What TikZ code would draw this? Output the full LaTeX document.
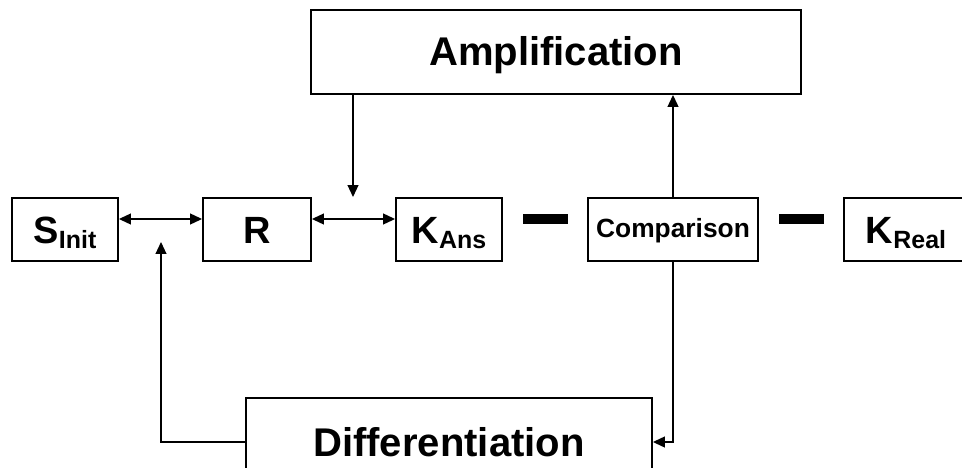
\documentclass[tikz,border=0pt]{standalone}
\usepackage{fontspec}
\setmainfont{Liberation Sans}
\usetikzlibrary{arrows.meta}

\newcommand{\bigsub}[2]{{\fontsize{21.6}{24}\selectfont #1}\raisebox{-2.5pt}{\fontsize{14.2}{16}\selectfont #2}}

\begin{document}
\begin{tikzpicture}[x=0.02cm,y=0.02cm,
  >={Triangle[length=6.8pt,width=6.2pt]},
  box/.style={draw,line width=1.1pt,inner sep=0pt,font=\bfseries,text depth=0pt},
  rowbox/.style={box,minimum height=1.26cm,text height=16.5pt},
  conn/.style={line width=0.75pt},
  bar/.style={fill=black,inner sep=0pt,minimum width=0.9cm,minimum height=0.2cm}]
  \clip (0,0) rectangle (962,467);

  %% big blocks
  \node[box,minimum width=9.8cm,minimum height=1.68cm,text height=15.9pt,
        font=\bfseries\fontsize{22.8}{26}\selectfont] (amp) at (556,415) {Amplification};
  \node[box,minimum width=8.12cm,minimum height=1.76cm,text height=17pt,
        font=\bfseries\fontsize{22.8}{26}\selectfont] (diff) at (449,25) {Differentiation};

  %% row
  \node[rowbox,minimum width=2.12cm] (sinit) at (65,237.5) {\bigsub{S}{Init}};
  \node[rowbox,minimum width=2.16cm] (r) at (257,237.5) {\fontsize{21.6}{24}\selectfont R};
  \node[rowbox,minimum width=2.12cm] (kans) at (449,237.5) {\bigsub{K}{Ans}};
  \node[rowbox,minimum width=3.4cm,text height=9.6pt,
        font=\bfseries\fontsize{15}{18}\selectfont] (comp) at (673,237.5) {Comparison};
  \node[rowbox,minimum width=2.48cm] (kreal) at (906,237.5) {\bigsub{K}{Real}};

  %% minus signs
  \node[bar] (minusA) at (545.5,248) {};
  \node[bar] (minusB) at (801.5,248) {};

  %% S <-> R <-> K
  \draw[conn,<->] ([yshift=0.21cm]sinit.east) -- ([yshift=0.21cm]r.west);
  \draw[conn,<->] ([yshift=0.21cm]r.east) -- ([yshift=0.21cm]kans.west);

  %% amplification loop
  \coordinate (ampin) at (353,270);
  \draw[conn,->] (amp.south -| ampin) -- (ampin);
  \draw[conn,->] (comp.north) -- (comp.north |- amp.south);

  %% differentiation loop
  \coordinate (rin) at (161,225);
  \draw[conn,->] (comp.south) |- (diff.east);
  \draw[conn,->] (diff.west) -| (rin);

\end{tikzpicture}
\end{document}
